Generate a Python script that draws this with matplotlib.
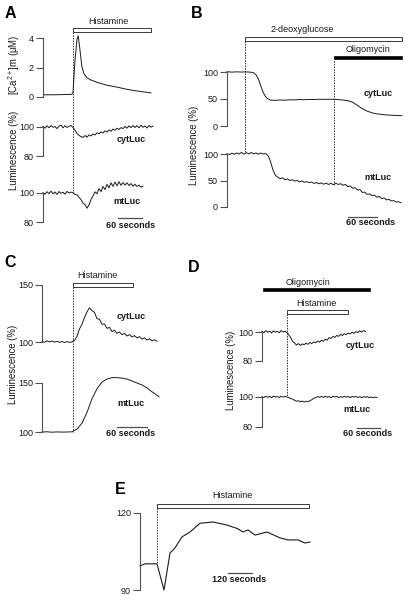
import matplotlib
matplotlib.use('Agg')
import matplotlib.pyplot as plt
from matplotlib.patches import Rectangle
from matplotlib import font_manager
import numpy as np

# ---------------- data (time in s) ----------------
# Panel A
A_CA_T = [3, 30, 60, 72, 75, 80, 85, 88, 92, 97, 102, 110, 120, 140, 160, 185, 210, 225, 250, 270]
A_CA_V = [0.15, 0.15, 0.17, 0.18, 0.3, 2.5, 3.9, 4.15, 3.3, 2.1, 1.6, 1.3, 1.15, 0.95, 0.8, 0.67, 0.52, 0.45, 0.35, 0.28]
A_CYT_T = np.arange(0, 280, 5)
A_CYT_V = [100.5, 99.2, 100.8, 99.5, 101.0, 99.8, 100.3, 98.9, 100.6, 101.2, 99.4, 100.9, 99.7, 100.4, 101.1,
           99.6, 97.8, 95.5, 94.2, 93.4, 92.8,
           94.1, 93.0, 94.6, 93.8, 95.2, 94.5, 96.0, 95.3, 96.6, 95.9, 97.3, 96.5, 98.0, 97.1, 98.6, 97.8,
           99.2, 98.3, 99.6, 98.9, 100.4, 99.2, 100.8, 99.5, 101.0, 99.7, 100.9, 99.4, 101.2, 99.8, 100.7,
           99.3, 101.0, 99.9, 100.6]
A_MT_T = np.arange(0, 255, 5)
A_MT_V = [100.2, 99.1, 100.9, 99.6, 101.3, 99.4, 100.7, 99.0, 101.0, 99.8, 100.5, 99.2, 101.1, 100.0, 100.6,
          100.2, 99.0, 98.8, 97.0, 95.5, 93.0, 92.0, 89.5, 91.8, 95.5, 98.0, 100.8, 99.5, 103.0, 101.0,
          104.5, 102.3, 106.0, 103.5, 107.0, 104.6, 107.5, 105.0, 107.8, 105.3, 107.2, 105.5, 107.0, 105.2,
          106.5, 104.8, 106.0, 104.5, 105.5, 104.0, 104.8]
A_HIST = (75, 270)

# Panel B
B_CYT_T = [0, 10, 20, 30, 40, 50, 55, 60, 65, 70, 75, 80, 85, 90, 100, 110, 120, 130, 140, 150, 160, 170,
           180, 190, 200, 210, 220, 230, 240, 250, 260, 270, 280, 290, 300, 310, 320, 330, 340, 350, 362]
B_CYT_V = [100.5, 99.8, 100.3, 99.9, 100.2, 99.6, 98.5, 95, 87, 74, 62, 54, 50, 48, 47.5, 48.2, 47.8, 48.5,
           48.3, 49.0, 48.7, 49.2, 49.0, 49.5, 49.3, 49.6, 49.4, 49.0, 48.0, 47.0, 44.0, 38.0, 32.0, 27.5,
           24.5, 22.5, 21.5, 20.5, 20.0, 19.5, 19.0]
B_MT_T = np.arange(0, 365, 5)
B_MT_V = [100.5, 99.0, 101.5, 99.5, 102.0, 100.0, 103.0, 99.8, 102.5, 100.2, 102.8, 100.5, 102.0, 99.8,
          101.8, 100.0, 100.8,
          97.0, 86.0, 70.0, 60.0, 56.0, 53.5, 55.0, 51.5, 53.0, 50.0, 51.5, 48.8, 50.2, 47.5, 49.0, 46.5,
          48.0, 45.8, 47.0, 44.5, 46.2, 43.8, 45.5, 43.0, 45.0, 42.5, 44.8, 42.0, 45.0, 42.5, 44.0, 41.0,
          42.5, 38.5, 39.5, 35.5, 36.5, 32.0, 33.0, 27.5, 28.0, 24.0, 24.5, 21.5, 22.5, 18.5, 20.0, 16.0,
          17.0, 13.5, 14.5, 11.5, 12.0, 9.5, 10.0, 8.0]
B_2DG = (37, 362)
B_OLIGO = (221, 362)

# Panel C
C_CYT_T = np.arange(0, 235, 5)
C_CYT_V = [100.5, 99.8, 101.0, 100.2, 100.8, 99.9, 100.6, 99.7, 100.4, 99.5, 100.3, 99.6, 100.2,
           101.5, 105.0, 111.5, 115.5, 121.5, 126.5, 130.0, 127.5, 126.0, 120.5, 120.0, 115.5, 115.8,
           112.0, 112.8, 109.2, 110.3, 107.6, 108.8, 106.4, 107.6, 105.3, 106.5, 104.4, 105.6, 103.6,
           104.7, 102.6, 103.6, 101.7, 102.8, 101.0, 101.9, 100.6]
C_MT_T = [0, 10, 20, 30, 40, 50, 60, 70, 80, 90, 100, 110, 120, 130, 140, 150, 160, 170, 180, 190, 200,
          210, 220, 234]
C_MT_V = [100, 100.2, 99.8, 100.1, 99.9, 100, 100.2, 103, 109, 120, 134, 144, 151, 154, 155.5, 155.5,
          155, 154, 152, 150, 148, 145, 141, 136]
C_HIST = (62, 182)

# Panel D
D_CYT_T = np.arange(0, 275, 5)
D_CYT_V = [100.4, 99.6, 100.9, 99.8, 100.6, 99.3, 100.8, 99.9, 100.5, 99.5, 101.0, 100.0, 100.6,
           99.5, 98.0, 96.0, 93.5, 92.5, 91.0, 92.0, 90.8, 91.8, 91.2, 92.3, 91.5, 92.8, 92.0, 93.2,
           92.5, 93.8, 93.0, 94.3, 93.6, 95.0,
           94.4, 96.2, 95.6, 96.9, 96.3, 97.6, 97.0, 98.3, 97.6, 98.8, 98.2, 99.3, 98.7, 99.8, 99.1,
           100.3, 99.6, 100.8, 100.0, 101.0, 100.4]
D_MT_T = np.arange(0, 305, 5)
D_MT_V = [100.2, 99.6, 100.5, 99.8, 100.4, 99.5, 100.6, 100.0, 100.3, 99.7, 100.5, 99.9, 100.4,
          100.0, 99.6, 99.0, 98.6, 97.8, 97.2, 97.5, 96.8, 97.3, 96.6, 97.2, 96.8, 97.6, 98.2, 99.2,
          99.6, 100.3, 99.8, 100.4, 99.7, 100.5, 99.9, 100.3, 99.6, 100.5, 100.0, 100.4, 99.7, 100.2,
          99.8, 100.5, 99.9, 100.3, 99.6, 100.4, 100.0, 100.3, 99.7, 100.2, 99.6, 100.3, 99.8, 100.2,
          99.5, 100.0, 99.6, 99.9, 99.7]
D_OLIGO = (3, 282)
D_HIST = (65, 224)

# Panel E
E_T = [0, 25, 85, 120, 150, 175, 210, 250, 300, 365, 435, 485, 515, 540, 575, 635, 700, 740, 790, 825, 850]
E_V = [99.4, 100.2, 100.2, 90, 104.4, 106.4, 110.7, 112.6, 116, 116.5, 115.3, 114, 112.6, 113.4, 111.4,
       112.6, 110.3, 109.5, 109.5, 108.3, 108.7]
E_HIST = (85, 845)

# ---------------- style ----------------
names = {f.name for f in font_manager.fontManager.ttflist}
if 'Liberation Sans Narrow' in names:
    FAM, K = 'Liberation Sans Narrow', 1.0
else:
    FAM, K = 'Liberation Sans', 0.92
plt.rcParams['font.family'] = [FAM, 'DejaVu Sans']
plt.rcParams['mathtext.fontset'] = 'custom'
plt.rcParams['mathtext.rm'] = FAM
plt.rcParams['mathtext.default'] = 'rm'

W, H = 410, 602
fig = plt.figure(figsize=(W / 100, H / 100), dpi=100)
INK = '#1a1a1a'
AXC = '#505050'
FS = 7 * K
LW = 0.7


def fy(py):
    return 1 - py / H


def make_ax(x0, px_per_s, ref1, ref2, bounds, ticks):
    (v1, y1), (v2, y2) = ref1, ref2
    ax = fig.add_axes([0, 0, 1, 1])
    ax.patch.set_visible(False)
    ax.set_xlim(-x0 / px_per_s, (W - x0) / px_per_s)
    sy = (y2 - y1) / (v1 - v2)
    ax.set_ylim(v1 - (H - y1) / sy, v1 + y1 / sy)
    for s in ('top', 'right', 'bottom'):
        ax.spines[s].set_visible(False)
    ax.set_xticks([])
    sp = ax.spines['left']
    sp.set_position(('data', 0))
    sp.set_bounds(*bounds)
    sp.set_color(AXC)
    sp.set_linewidth(0.8)
    ax.set_yticks(ticks)
    ax.set_yticklabels([str(t) for t in ticks])
    ax.tick_params(axis='y', length=5, width=0.8, pad=1.5, labelsize=FS, color=AXC, labelcolor=INK)
    return ax


def vline(ax, t, ytop, ybot):
    ax.plot([t, t], [fy(ytop), fy(ybot)], transform=ax.get_xaxis_transform(), color=INK,
            lw=0.6, ls=(0, (1.8, 1.4)), clip_on=False)


def tbar(ax, span, ytop, ybot, fill='white'):
    t0, t1 = span
    ax.add_patch(Rectangle((t0, fy(ybot)), t1 - t0, fy(ytop) - fy(ybot),
                           transform=ax.get_xaxis_transform(), fc=fill, ec=INK, lw=0.6, clip_on=False))


def sbar(ax, t0, length, y):
    ax.plot([t0, t0 + length], [fy(y)] * 2, transform=ax.get_xaxis_transform(), color=AXC, lw=0.9)


def txt(px, py, s, **kw):
    kw.setdefault('fontsize', FS)
    fig.text(px / W, fy(py), s, ha='center', va='center', color=INK, **kw)


def letter(px, py, s):
    fig.text(px / W, fy(py), s, ha='center', va='center', fontsize=11.5, fontweight='bold',
             family=['Liberation Sans', 'DejaVu Sans'], color='black')


# ---------------- Panel A ----------------
sA = 24 / 60
axA1 = make_ax(43, sA, (4, 38), (0, 97), (0, 4), [0, 2, 4])
axA1.plot(A_CA_T, A_CA_V, color=INK, lw=LW)
axA2 = make_ax(43, sA, (100, 127), (80, 156), (80, 100), [80, 100])
axA2.plot(A_CYT_T, A_CYT_V, color=INK, lw=LW)
axA3 = make_ax(43, sA, (100, 193), (80, 222), (80, 100), [80, 100])
axA3.plot(A_MT_T, A_MT_V, color=INK, lw=LW)
tbar(axA1, A_HIST, 28, 32)
vline(axA1, A_HIST[0], 32, 193)
sbar(axA1, 187.5, 60, 218)
letter(10, 13, 'A')
txt(108, 22, 'Histamine')
txt(131, 140, 'cytLuc', fontweight='bold')
txt(127, 202, 'mtLuc', fontweight='bold')
txt(131, 225, '60 seconds', fontweight='bold')
txt(14, 65, r'[Ca$^{2+}$]m (μM)', rotation=90, fontsize=7.5 * K)
txt(14, 150, 'Luminescence (%)', rotation=90, fontsize=7.5 * K)

# ---------------- Panel B ----------------
sB = 29 / 60
axB1 = make_ax(227, sB, (100, 72), (0, 126), (0, 100), [0, 50, 100])
axB1.plot(B_CYT_T, B_CYT_V, color=INK, lw=LW)
axB2 = make_ax(227, sB, (100, 154), (0, 207), (0, 100), [0, 50, 100])
axB2.plot(B_MT_T, B_MT_V, color=INK, lw=LW)
tbar(axB1, B_2DG, 37, 41)
tbar(axB1, B_OLIGO, 55.5, 58.5, fill='black')
vline(axB1, B_2DG[0], 41, 152)
vline(axB1, B_OLIGO[0], 58, 185)
sbar(axB1, 250, 60, 217)
letter(197, 13, 'B')
txt(302, 29, '2-deoxyglucose')
txt(368, 50, 'Oligomycin')
txt(378, 94, 'cytLuc', fontweight='bold')
txt(378, 177, 'mtLuc', fontweight='bold')
txt(371, 223, '60 seconds', fontweight='bold')
txt(194, 145, 'Luminescence (%)', rotation=90, fontsize=7.5 * K)

# ---------------- Panel C ----------------
sC = 30 / 60
axC1 = make_ax(42, sC, (150, 285), (100, 342), (100, 150), [100, 150])
axC1.plot(C_CYT_T, C_CYT_V, color=INK, lw=LW)
axC2 = make_ax(42, sC, (150, 383), (100, 432), (100, 150), [100, 150])
axC2.plot(C_MT_T, C_MT_V, color=INK, lw=LW)
tbar(axC1, C_HIST, 283, 287)
vline(axC1, C_HIST[0], 287, 432)
sbar(axC1, 150, 60, 427)
letter(10, 263, 'C')
txt(97, 276, 'Histamine')
txt(131, 317, 'cytLuc', fontweight='bold')
txt(131, 403, 'mtLuc', fontweight='bold')
txt(131, 433, '60 seconds', fontweight='bold')
txt(13, 364, 'Luminescence (%)', rotation=90, fontsize=7.5 * K)

# ---------------- Panel D ----------------
sD = 23 / 60
axD1 = make_ax(262, sD, (100, 332), (80, 361), (80, 100), [80, 100])
axD1.plot(D_CYT_T, D_CYT_V, color=INK, lw=LW)
axD2 = make_ax(262, sD, (100, 397), (80, 427), (80, 100), [80, 100])
axD2.plot(D_MT_T, D_MT_V, color=INK, lw=LW)
tbar(axD1, D_OLIGO, 287.5, 290.5, fill='black')
tbar(axD1, D_HIST, 310, 314)
vline(axD1, D_HIST[0], 314, 397)
sbar(axD1, 248, 60, 428)
letter(194, 267, 'D')
txt(308, 282, 'Oligomycin')
txt(316, 304, 'Histamine')
txt(360, 346, 'cytLuc', fontweight='bold')
txt(357, 410, 'mtLuc', fontweight='bold')
txt(368, 433, '60 seconds', fontweight='bold')
txt(231, 370, 'Luminescence (%)', rotation=90, fontsize=7.5 * K)

# ---------------- Panel E ----------------
sE = 24 / 120
axE = make_ax(140, sE, (120, 513), (90, 590), (90, 120), [90, 120])
axE.plot(E_T, E_V, color=INK, lw=0.8)
tbar(axE, E_HIST, 504, 508)
vline(axE, E_HIST[0], 508, 564)
sbar(axE, 440, 120, 573)
letter(120, 489, 'E')
txt(232, 496, 'Histamine')
txt(239, 580, '120 seconds', fontweight='bold')

fig.savefig('out.png', dpi=100, facecolor='white')
